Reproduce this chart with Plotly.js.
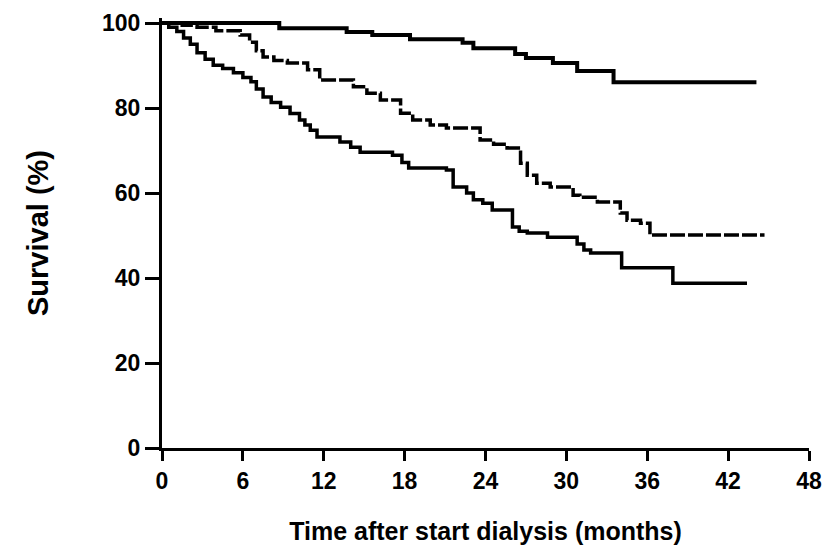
<!DOCTYPE html>
<html>
<head>
<meta charset="utf-8">
<script src="https://cdn.plot.ly/plotly-3.0.1.min.js"></script>
<style>html,body{margin:0;padding:0;background:#fff;}#chart{width:828px;height:555px;}</style>
</head>
<body>
<div id="chart"></div>
<script>
// Time after start of dialysis (months) and survival (%) for three groups (Kaplan-Meier steps)
var topMonths = [0, 8.7, 13.7, 15.6, 18.4, 22.3, 23.1, 26.2, 27.0, 29.0, 30.8, 33.5, 44.1];
var topSurvival = [100, 98.8, 97.9, 97.2, 96.2, 95.4, 94.1, 92.7, 91.8, 90.6, 88.7, 86.1, 86.1];

var midMonths = [0, 1.5, 2.6, 4.0, 5.8, 6.5, 7.0, 7.5, 8.3, 9.3, 10.8, 11.7, 14.2, 15.2, 16.2, 17.7, 18.6, 19.9, 21.1, 23.6, 24.6, 25.6, 26.6, 27.1, 27.8, 28.8, 30.5, 31.0, 32.3, 34.0, 34.5, 35.5, 36.2, 44.7];
var midSurvival = [100, 99.5, 99.0, 98.2, 97.2, 95.5, 93.5, 92.0, 91.2, 90.6, 89.0, 86.6, 85.0, 83.5, 81.9, 78.8, 77.2, 76.0, 75.3, 72.5, 71.5, 70.6, 67.0, 64.2, 62.3, 61.4, 59.5, 59.0, 57.9, 55.3, 53.6, 52.9, 50.1, 50.1];

var lowMonths = [0, 0.5, 1.1, 1.6, 2.1, 2.6, 3.2, 3.8, 4.5, 5.3, 6.0, 6.6, 7.0, 7.5, 8.1, 8.8, 9.5, 10.2, 10.6, 11.0, 11.5, 13.2, 14.0, 14.7, 17.1, 17.8, 18.3, 21.1, 21.6, 22.6, 23.1, 23.8, 24.5, 26.0, 26.5, 27.1, 28.6, 30.8, 31.3, 31.8, 34.1, 37.9, 43.4];
var lowSurvival = [100, 99.0, 98.0, 96.5, 95.0, 93.0, 91.5, 90.1, 89.3, 88.3, 87.2, 86.2, 84.5, 82.6, 81.3, 80.2, 78.7, 77.2, 76.0, 74.8, 73.2, 72.0, 70.8, 69.6, 68.9, 67.2, 65.9, 65.4, 61.4, 60.0, 58.4, 57.6, 56.0, 52.0, 51.0, 50.6, 49.6, 48.0, 46.6, 45.9, 42.4, 38.8, 38.8];

var xTicks = [0, 6, 12, 18, 24, 30, 36, 42, 48];
var yTicks = [0, 20, 40, 60, 80, 100];

var traces = [
  {x: topMonths, y: topSurvival, type: 'scatter', mode: 'lines', line: {shape: 'hv', color: '#000', width: 4}, hoverinfo: 'x+y'},
  {x: midMonths, y: midSurvival, type: 'scatter', mode: 'lines', line: {shape: 'hv', color: '#000', width: 3.5, dash: '15px,3px'}, hoverinfo: 'x+y'},
  {x: lowMonths, y: lowSurvival, type: 'scatter', mode: 'lines', line: {shape: 'hv', color: '#000', width: 3.5}, hoverinfo: 'x+y'}
];

var fontFam = '"Liberation Sans", Arial, Helvetica, sans-serif';
var layout = {
  width: 828, height: 555,
  margin: {l: 162, r: 19, t: 18, b: 107},
  paper_bgcolor: '#fff', plot_bgcolor: '#fff',
  showlegend: false,
  font: {family: fontFam, color: '#000', size: 22, weight: 'bold'},
  xaxis: {
    range: [0, 48], tickvals: xTicks, ticktext: xTicks.map(String),
    showgrid: false, zeroline: false, showline: true, linecolor: '#000', linewidth: 3,
    ticks: 'outside', ticklen: 10, tickwidth: 3, tickcolor: '#000',
    tickfont: {size: 23, family: fontFam, color: '#000', weight: 'bold'},
    title: {text: 'Time after start dialysis (months)', font: {size: 25, family: fontFam, color: '#000', weight: 'bold'}, standoff: 30}
  },
  yaxis: {
    range: [0, 101.2], tickvals: yTicks, ticktext: yTicks.map(String),
    showgrid: false, zeroline: false, showline: true, linecolor: '#000', linewidth: 3,
    ticks: 'outside', ticklen: 14, tickwidth: 3, tickcolor: '#000',
    tickfont: {size: 23, family: fontFam, color: '#000', weight: 'bold'},
    title: {text: 'Survival (%)', font: {size: 29, family: fontFam, color: '#000', weight: 'bold'}, standoff: 45}
  }
};

Plotly.newPlot('chart', traces, layout, {displayModeBar: false, staticPlot: true});
</script>
</body>
</html>
